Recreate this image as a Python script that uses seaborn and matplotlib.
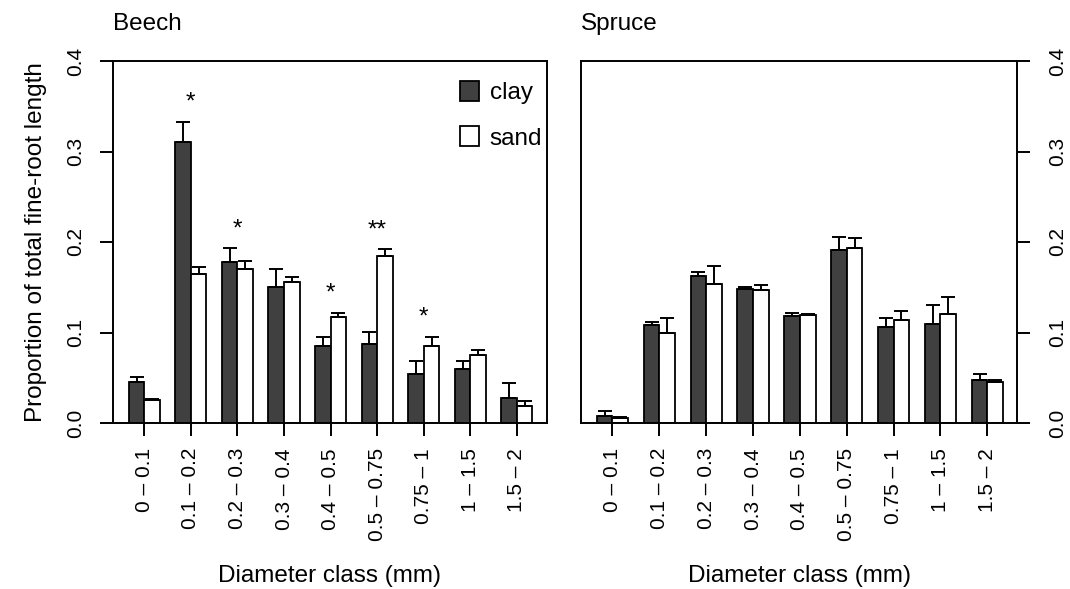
import numpy as np
import pandas as pd
import seaborn as sns
import matplotlib
matplotlib.use("Agg")
import matplotlib.pyplot as plt
from matplotlib.patches import Patch

# ---------------- data ----------------
classes = ["0 – 0.1", "0.1 – 0.2", "0.2 – 0.3", "0.3 – 0.4", "0.4 – 0.5",
           "0.5 – 0.75", "0.75 – 1", "1 – 1.5", "1.5 – 2"]
soils = ["clay", "sand"]

beech_clay = [0.045, 0.311, 0.178, 0.150, 0.085, 0.087, 0.054, 0.060, 0.028]
beech_clay_se = [0.006, 0.022, 0.015, 0.020, 0.010, 0.014, 0.014, 0.008, 0.016]
beech_sand = [0.025, 0.165, 0.170, 0.156, 0.117, 0.184, 0.085, 0.075, 0.019]
beech_sand_se = [0.001, 0.007, 0.009, 0.005, 0.005, 0.008, 0.010, 0.006, 0.005]
beech_sig = ["", "*", "*", "", "*", "**", "*", "", ""]

spruce_clay = [0.008, 0.108, 0.162, 0.148, 0.118, 0.191, 0.106, 0.109, 0.048]
spruce_clay_se = [0.005, 0.004, 0.005, 0.002, 0.003, 0.015, 0.010, 0.021, 0.006]
spruce_sand = [0.006, 0.099, 0.154, 0.147, 0.119, 0.193, 0.114, 0.120, 0.045]
spruce_sand_se = [0.001, 0.017, 0.019, 0.005, 0.001, 0.011, 0.010, 0.019, 0.003]
spruce_sig = [""] * 9

yticks = [0.0, 0.1, 0.2, 0.3, 0.4]
ytick_labels = ["0.0", "0.1", "0.2", "0.3", "0.4"]

colors = {"clay": "#404040", "sand": "#ffffff"}

# ---------------- style ----------------
sns.set_theme(style="ticks")
plt.rcParams["font.family"] = ["Liberation Sans", "DejaVu Sans"]
plt.rcParams.update({
    "axes.linewidth": 1.4,
    "axes.edgecolor": "black",
    "text.color": "black",
    "axes.labelcolor": "black",
    "xtick.color": "black",
    "ytick.color": "black",
})

FS_LAB = 17.5
FS_TICK = 15

fig = plt.figure(figsize=(10.7, 5.89), dpi=100)
W, H = 1070.0, 589.0
bottom = 1 - 423 / H
height = 362 / H
ax1 = fig.add_axes([112.7 / W, bottom, 434 / W, height])
ax2 = fig.add_axes([580.7 / W, bottom, 436.6 / W, height])


def panel(ax, title, clay, clay_se, sand, sand_se, sig, side):
    df = pd.DataFrame({
        "cls": classes * 2,
        "soil": ["clay"] * len(classes) + ["sand"] * len(classes),
        "val": list(clay) + list(sand),
    })
    sns.barplot(data=df, x="cls", y="val", hue="soil", hue_order=soils,
                order=classes, palette=colors, edgecolor="black",
                linewidth=1.3, width=2 / 3, errorbar=None, legend=False,
                saturation=1, ax=ax)
    tops = {}
    for cont, se in zip(ax.containers, [clay_se, sand_se]):
        xs = [r.get_x() + r.get_width() / 2 for r in cont]
        hs = [r.get_height() for r in cont]
        ax.errorbar(xs, hs, yerr=[np.zeros(len(se)), se], fmt="none",
                    ecolor="black", elinewidth=1.4, capsize=5, capthick=1.4,
                    zorder=3)
        for i, (h, s) in enumerate(zip(hs, se)):
            tops[i] = max(tops.get(i, 0), h + s)
    for i, s in enumerate(sig):
        if s:
            ax.text(i, tops[i] + 0.021, s, ha="center", va="center",
                    fontsize=FS_LAB)
    ax.set_ylim(0, 0.4)
    ax.set_xlim(-0.678, 8.64)
    ax.set_yticks(yticks)
    ax.set_yticklabels(ytick_labels, rotation=90, va="center", fontsize=FS_TICK)
    ax.set_xticks(range(len(classes)))
    ax.set_xticklabels(classes, rotation=90, fontsize=FS_TICK)
    ax.tick_params(axis="x", length=9, width=1.4, pad=9)
    ax.tick_params(axis="y", length=9.5, width=1.4)
    for sp in ax.spines.values():
        sp.set_visible(True)
        sp.set_linewidth(1.4)
    if side == "right":
        ax.yaxis.tick_right()
        ax.tick_params(axis="y", pad=13)
    else:
        ax.tick_params(axis="y", pad=10)
    ax.set_ylabel("")
    ax.set_xlabel("Diameter class (mm)", fontsize=FS_LAB)
    ax.xaxis.set_label_coords(0.5, -0.391)
    ax.set_title(title, loc="left", fontsize=FS_LAB, pad=22)


panel(ax1, "Beech", beech_clay, beech_clay_se, beech_sand, beech_sand_se,
      beech_sig, "left")
panel(ax2, "Spruce", spruce_clay, spruce_clay_se, spruce_sand, spruce_sand_se,
      spruce_sig, "right")

ax1.set_ylabel("Proportion of total fine-root length", fontsize=FS_LAB)
ax1.yaxis.set_label_coords(-0.152, 0.5)

handles = [Patch(facecolor=colors[s], edgecolor="black", linewidth=1.3,
                 label=s) for s in soils]
ax1.legend(handles=handles, loc="upper right", bbox_to_anchor=(0.99, 0.944),
           frameon=False, fontsize=FS_LAB, handlelength=0.78,
           handleheight=0.86, handletextpad=0.46, labelspacing=0.9,
           borderpad=0, borderaxespad=0)

fig.savefig("out.png", dpi=100)
